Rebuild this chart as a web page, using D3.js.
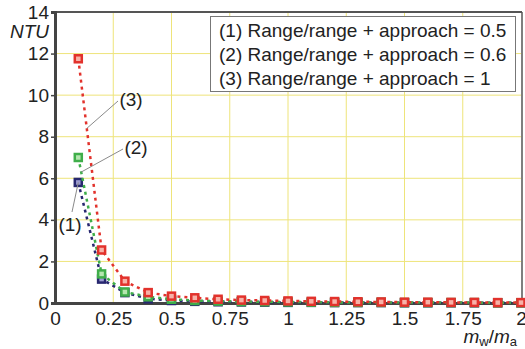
<!DOCTYPE html>
<html>
<head>
<meta charset="utf-8">
<script src="https://cdn.jsdelivr.net/npm/d3@7"></script>
<style>
  html, body { margin: 0; padding: 0; background: #fff; }
  svg { display: block; font-family: "Liberation Sans", Arial, sans-serif; }
  .grid line { stroke: #eee47a; stroke-width: 1; }
  .tick-label { font-size: 19px; fill: #222; }
  .leader { stroke: #8a8a8a; stroke-width: 1; fill: none; }
</style>
</head>
<body>
<div id="chart"></div>
<script>
// flow ratio on the x axis
var ratios = [0.1, 0.2, 0.3, 0.4, 0.5, 0.6, 0.7, 0.8, 0.9, 1.0,
              1.1, 1.2, 1.3, 1.4, 1.5, 1.6, 1.7, 1.8, 1.9, 2.0]

// NTU per series
var ntu1 = [5.8, 1.15, 0.5, 0.2, 0.12, 0.08, 0.06, 0.05, 0.04, 0.03,
            0.03, 0.02, 0.02, 0.02, 0.01, 0.01, 0.01, 0.01, 0.01, 0.01]
var ntu2 = [7.0, 1.4, 0.53, 0.3, 0.18, 0.12, 0.09, 0.07, 0.06, 0.05,
            0.04, 0.03, 0.03, 0.03, 0.02, 0.02, 0.02, 0.02, 0.01, 0.01]
var ntu3 = [11.75, 2.55, 1.05, 0.5, 0.33, 0.25, 0.18, 0.14, 0.12, 0.1,
            0.08, 0.07, 0.06, 0.05, 0.04, 0.04, 0.03, 0.03, 0.02, 0.02]

var legendLabels = ["(1) Range/range + approach = 0.5",
                    "(2) Range/range + approach = 0.6",
                    "(3) Range/range + approach = 1"]
var xTicks = [0, 0.25, 0.5, 0.75, 1, 1.25, 1.5, 1.75, 2]
var xTickLabels = ["0", "0.25", "0.5", "0.75", "1", "1.25", "1.5", "1.75", "2"]
var yTicks = [0, 2, 4, 6, 8, 10, 12, 14]

var series = [
  { id: "s1", values: ntu1, color: "#27276f", light: "#9a9ad0" },
  { id: "s2", values: ntu2, color: "#3fae4a", light: "#b5e6b0" },
  { id: "s3", values: ntu3, color: "#e2322c", light: "#f7b2a8" }
]

var width = 525, height = 349
  , plotL = 55, plotR = 521, plotT = 12, plotB = 303

var svg = d3.select("#chart")
  .append("svg")
    .attr("width", width)
    .attr("height", height)

var x = d3.scaleLinear().domain([0, 2]).range([plotL, plotR])
  , y = d3.scaleLinear().domain([0, 14]).range([plotB, plotT])

// yellow grid
var grid = svg.append("g").attr("class", "grid")
grid.selectAll(".gx")
  .data(xTicks.slice(1, -1))
  .enter().append("line")
    .attr("x1", function(d) { return x(d) })
    .attr("x2", function(d) { return x(d) })
    .attr("y1", plotT)
    .attr("y2", plotB)
grid.selectAll(".gy")
  .data(yTicks.slice(1, -1))
  .enter().append("line")
    .attr("x1", plotL)
    .attr("x2", plotR)
    .attr("y1", function(d) { return y(d) })
    .attr("y2", function(d) { return y(d) })

// frame (top + right)
svg.append("line")
  .attr("x1", plotL).attr("x2", plotR + 1)
  .attr("y1", plotT).attr("y2", plotT)
  .attr("stroke", "#555").attr("stroke-width", 2)
svg.append("line")
  .attr("x1", plotR + 1).attr("x2", plotR + 1)
  .attr("y1", plotT).attr("y2", plotB)
  .attr("stroke", "#555").attr("stroke-width", 1.5)

// axes
var yAxis = svg.append("g")
  .attr("transform", "translate(" + plotL + ",0)")
  .call(d3.axisLeft(y).tickValues(yTicks).tickSize(4).tickPadding(2))
yAxis.select(".domain").attr("stroke", "#444").attr("stroke-width", 3)
yAxis.selectAll(".tick line").attr("stroke", "#444").attr("stroke-width", 1.5)
yAxis.selectAll(".tick text")
  .attr("class", "tick-label")
  .style("font-family", "Liberation Sans, Arial, sans-serif")

var xAxis = svg.append("g")
  .attr("transform", "translate(0," + plotB + ")")
  .call(d3.axisBottom(x).tickValues(xTicks).tickSize(0).tickPadding(6)
    .tickFormat(function(d, i) { return xTickLabels[i] }))
xAxis.select(".domain").attr("stroke", "#444").attr("stroke-width", 3)
xAxis.selectAll(".tick text")
  .attr("class", "tick-label")
  .style("font-family", "Liberation Sans, Arial, sans-serif")
  .attr("dy", "0.85em")

// axis titles
svg.append("text")
  .attr("x", 49)
  .attr("y", 38)
  .attr("text-anchor", "end")
  .style("font-size", "19px")
  .style("font-style", "italic")
  .attr("fill", "#222")
  .text("NTU")

var xt = svg.append("text")
  .attr("x", 517)
  .attr("y", 343)
  .attr("text-anchor", "end")
  .style("font-size", "19px")
  .attr("fill", "#222")
xt.append("tspan").style("font-style", "italic").text("m")
xt.append("tspan").attr("dy", 3).style("font-size", "13px").text("w")
xt.append("tspan").attr("dy", -3).text("/")
xt.append("tspan").style("font-style", "italic").text("m")
xt.append("tspan").attr("dy", 3).style("font-size", "13px").text("a")

// series: dotted line + square markers
var line = d3.line()
  .x(function(d, i) { return x(ratios[i]) })
  .y(function(d) { return y(d) })

series.forEach(function(s) {
  var g = svg.append("g").attr("id", s.id)

  g.append("path")
    .attr("d", line(s.values))
    .attr("fill", "none")
    .attr("stroke", s.color)
    .attr("stroke-width", 2.5)
    .attr("stroke-dasharray", "3,4")

  g.selectAll("rect")
    .data(s.values)
    .enter().append("rect")
      .attr("x", function(d, i) { return x(ratios[i]) - 3.5 })
      .attr("y", function(d) { return y(d) - 3.5 })
      .attr("width", 7)
      .attr("height", 7)
      .attr("fill", s.light)
      .attr("stroke", s.color)
      .attr("stroke-width", 2.5)
})

// leader lines for (1) (2) (3)
var leaders = [
  { text: "(3)", x1: 118, y1: 101, v: 8.4, s: ntu3, tx: 131, ty: 106 },
  { text: "(2)", x1: 123, y1: 149, v: 6.3, s: ntu2, tx: 136, ty: 154 },
  { text: "(1)", x1: 72, y1: 212, v: 5.8, s: ntu1, tx: 70, ty: 231 }
]
leaders.forEach(function(l) {
  // point on the series between first and second sample
  var t = (l.s[0] - l.v) / (l.s[0] - l.s[1])
    , px = x(ratios[0] + t * (ratios[1] - ratios[0]))
    , py = y(l.v)
  svg.append("line")
    .attr("class", "leader")
    .attr("x1", l.x1).attr("y1", l.y1)
    .attr("x2", px).attr("y2", py)
  svg.append("text")
    .attr("x", l.tx)
    .attr("y", l.ty)
    .attr("text-anchor", "middle")
    .style("font-size", "19px")
    .attr("fill", "#222")
    .text(l.text)
})

// legend box
var legend = svg.append("g")
legend.append("rect")
  .attr("x", 210.5)
  .attr("y", 16.5)
  .attr("width", 305)
  .attr("height", 75)
  .attr("fill", "#fff")
  .attr("stroke", "#777")
  .attr("stroke-width", 1)
legend.selectAll("text")
  .data(legendLabels)
  .enter().append("text")
    .attr("x", 219)
    .attr("y", function(d, i) { return 37 + i * 23.8 })
    .style("font-size", "19px")
    .attr("fill", "#222")
    .text(function(d) { return d })
</script>
</body>
</html>
